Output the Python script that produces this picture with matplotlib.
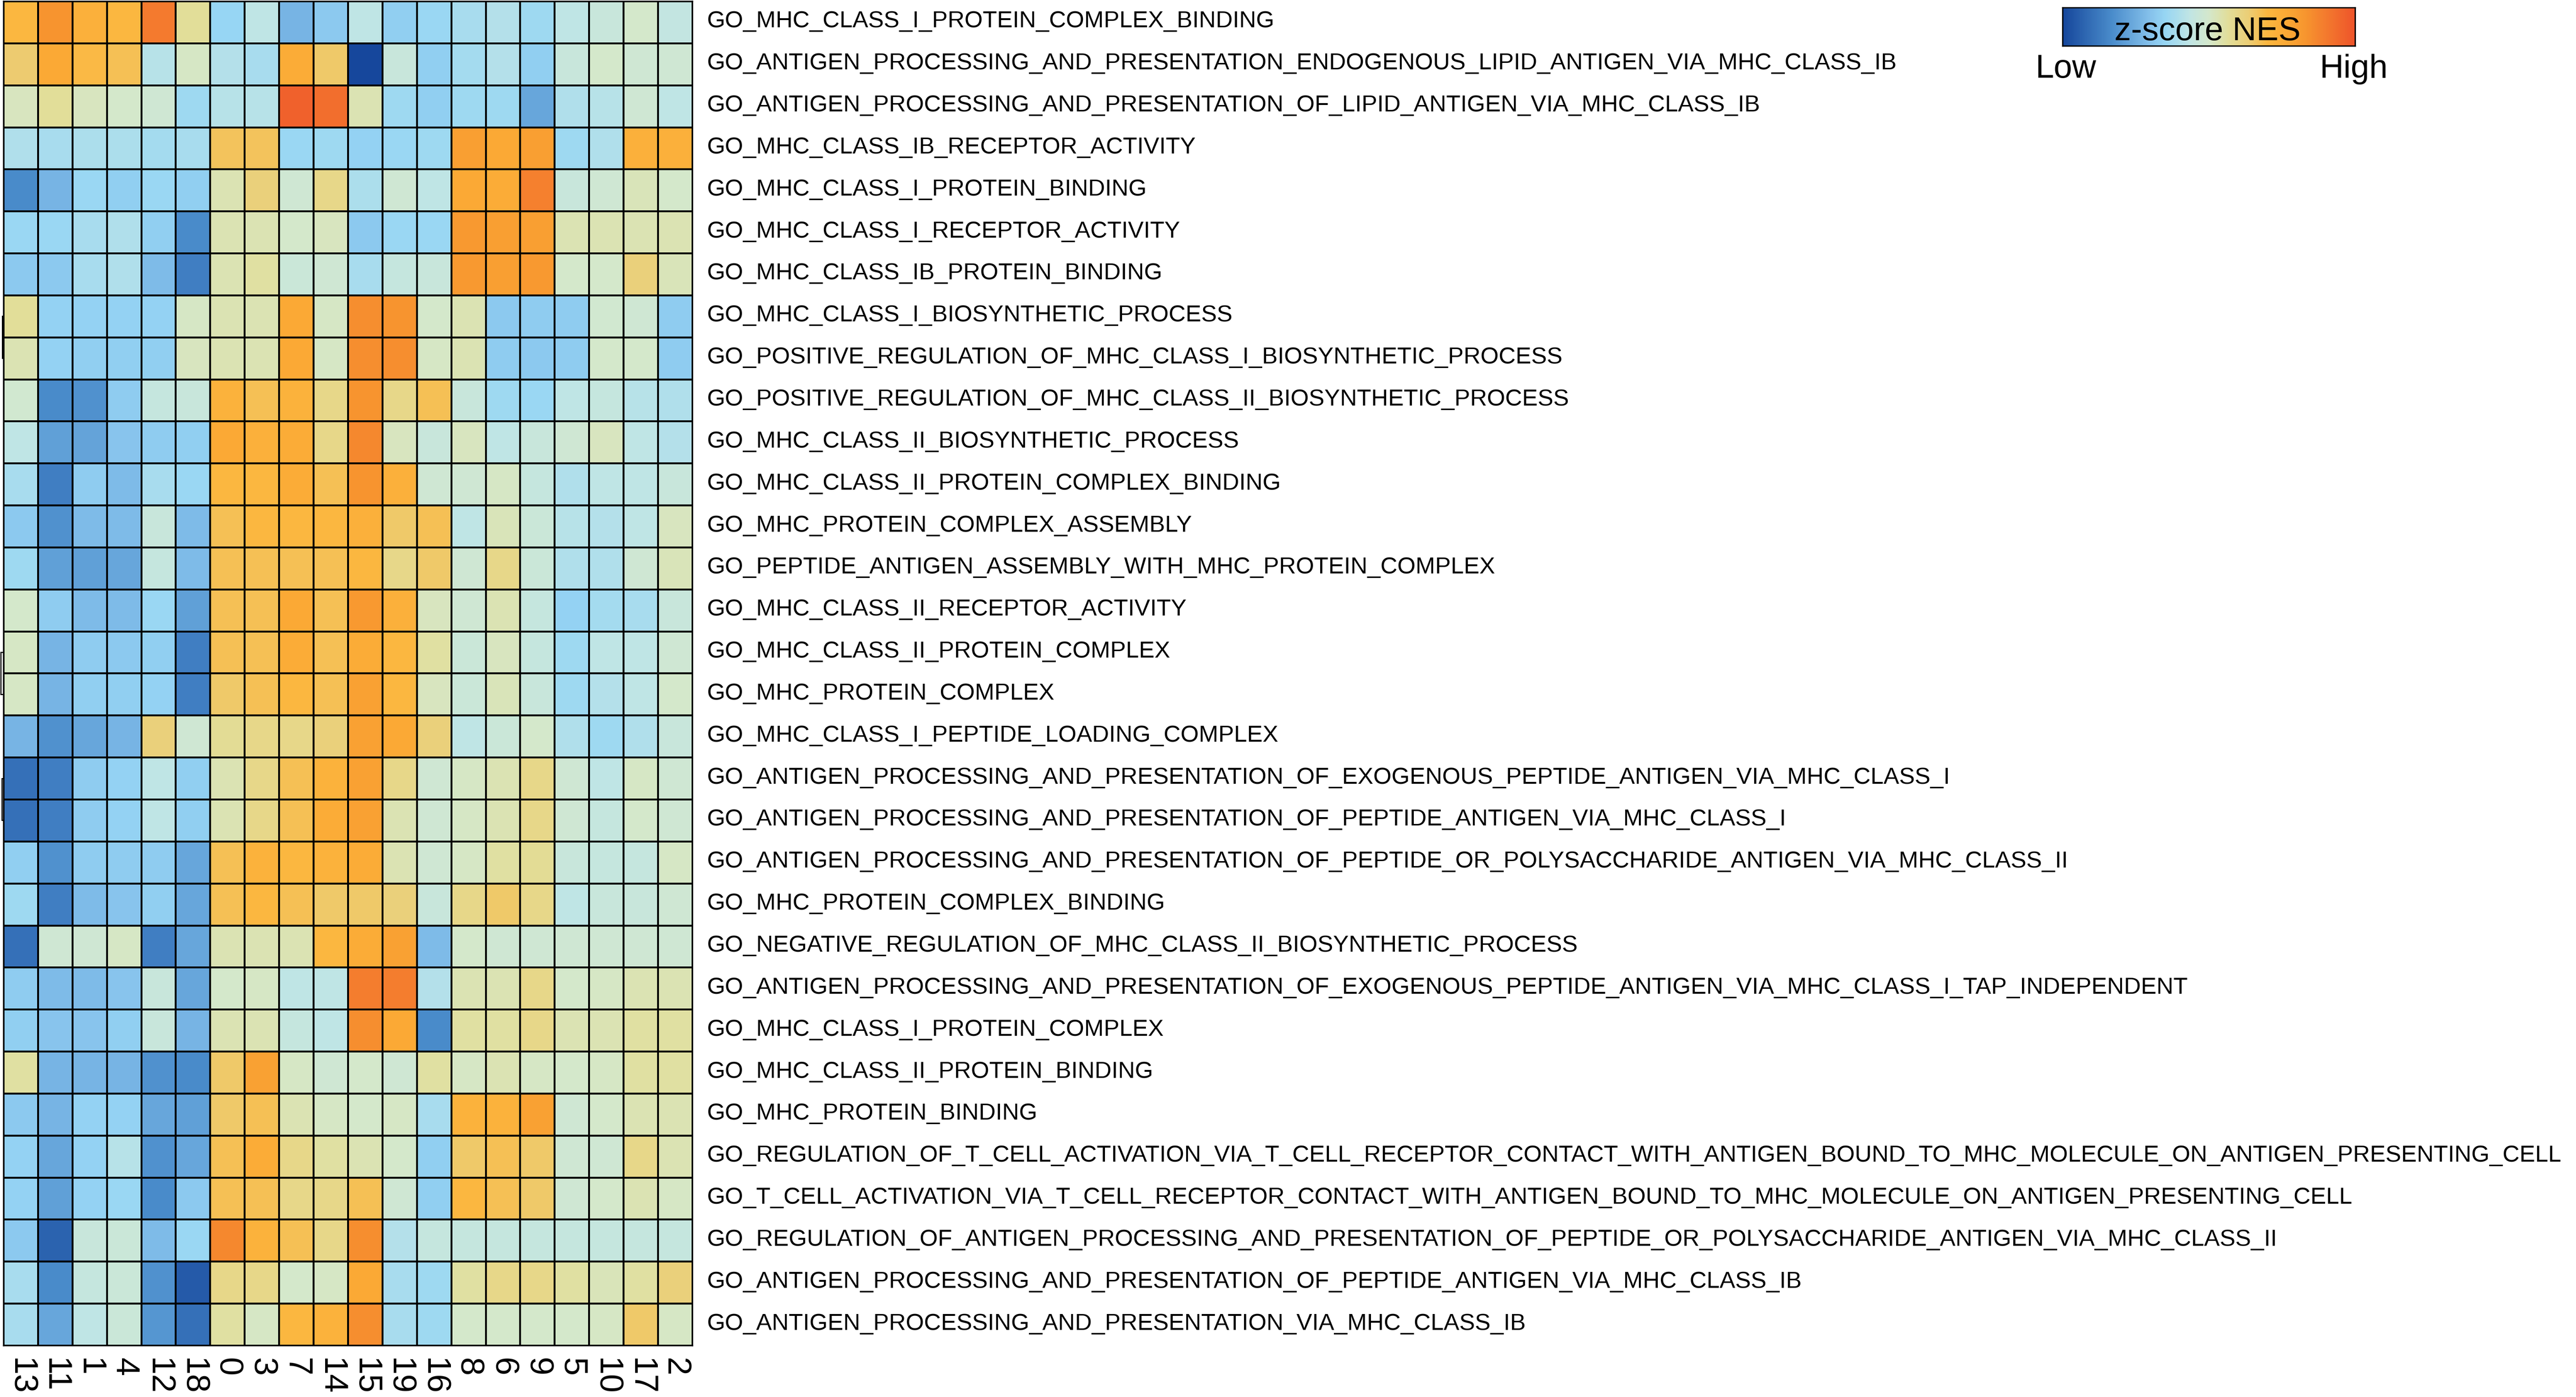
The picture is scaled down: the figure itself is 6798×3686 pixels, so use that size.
import numpy as np
import matplotlib
matplotlib.use("Agg")
import matplotlib.pyplot as plt
import matplotlib.transforms as mtransforms
from matplotlib.colors import LinearSegmentedColormap

plt.rcParams['font.family'] = ['Liberation Sans', 'DejaVu Sans']

clusters = ["13", "11", "1", "4", "12", "18", "0", "3", "7", "14",
            "15", "19", "16", "8", "6", "9", "5", "10", "17", "2"]

terms = [
    "GO_MHC_CLASS_I_PROTEIN_COMPLEX_BINDING",
    "GO_ANTIGEN_PROCESSING_AND_PRESENTATION_ENDOGENOUS_LIPID_ANTIGEN_VIA_MHC_CLASS_IB",
    "GO_ANTIGEN_PROCESSING_AND_PRESENTATION_OF_LIPID_ANTIGEN_VIA_MHC_CLASS_IB",
    "GO_MHC_CLASS_IB_RECEPTOR_ACTIVITY",
    "GO_MHC_CLASS_I_PROTEIN_BINDING",
    "GO_MHC_CLASS_I_RECEPTOR_ACTIVITY",
    "GO_MHC_CLASS_IB_PROTEIN_BINDING",
    "GO_MHC_CLASS_I_BIOSYNTHETIC_PROCESS",
    "GO_POSITIVE_REGULATION_OF_MHC_CLASS_I_BIOSYNTHETIC_PROCESS",
    "GO_POSITIVE_REGULATION_OF_MHC_CLASS_II_BIOSYNTHETIC_PROCESS",
    "GO_MHC_CLASS_II_BIOSYNTHETIC_PROCESS",
    "GO_MHC_CLASS_II_PROTEIN_COMPLEX_BINDING",
    "GO_MHC_PROTEIN_COMPLEX_ASSEMBLY",
    "GO_PEPTIDE_ANTIGEN_ASSEMBLY_WITH_MHC_PROTEIN_COMPLEX",
    "GO_MHC_CLASS_II_RECEPTOR_ACTIVITY",
    "GO_MHC_CLASS_II_PROTEIN_COMPLEX",
    "GO_MHC_PROTEIN_COMPLEX",
    "GO_MHC_CLASS_I_PEPTIDE_LOADING_COMPLEX",
    "GO_ANTIGEN_PROCESSING_AND_PRESENTATION_OF_EXOGENOUS_PEPTIDE_ANTIGEN_VIA_MHC_CLASS_I",
    "GO_ANTIGEN_PROCESSING_AND_PRESENTATION_OF_PEPTIDE_ANTIGEN_VIA_MHC_CLASS_I",
    "GO_ANTIGEN_PROCESSING_AND_PRESENTATION_OF_PEPTIDE_OR_POLYSACCHARIDE_ANTIGEN_VIA_MHC_CLASS_II",
    "GO_MHC_PROTEIN_COMPLEX_BINDING",
    "GO_NEGATIVE_REGULATION_OF_MHC_CLASS_II_BIOSYNTHETIC_PROCESS",
    "GO_ANTIGEN_PROCESSING_AND_PRESENTATION_OF_EXOGENOUS_PEPTIDE_ANTIGEN_VIA_MHC_CLASS_I_TAP_INDEPENDENT",
    "GO_MHC_CLASS_I_PROTEIN_COMPLEX",
    "GO_MHC_CLASS_II_PROTEIN_BINDING",
    "GO_MHC_PROTEIN_BINDING",
    "GO_REGULATION_OF_T_CELL_ACTIVATION_VIA_T_CELL_RECEPTOR_CONTACT_WITH_ANTIGEN_BOUND_TO_MHC_MOLECULE_ON_ANTIGEN_PRESENTING_CELL",
    "GO_T_CELL_ACTIVATION_VIA_T_CELL_RECEPTOR_CONTACT_WITH_ANTIGEN_BOUND_TO_MHC_MOLECULE_ON_ANTIGEN_PRESENTING_CELL",
    "GO_REGULATION_OF_ANTIGEN_PROCESSING_AND_PRESENTATION_OF_PEPTIDE_OR_POLYSACCHARIDE_ANTIGEN_VIA_MHC_CLASS_II",
    "GO_ANTIGEN_PROCESSING_AND_PRESENTATION_OF_PEPTIDE_ANTIGEN_VIA_MHC_CLASS_IB",
    "GO_ANTIGEN_PROCESSING_AND_PRESENTATION_VIA_MHC_CLASS_IB",
]

# z-scored NES, one row per GO term, columns in cluster order above
nes_z = [
    [1.2, 2.0, 1.4, 1.2, 2.4, 0.4, -0.9, -0.4, -1.4, -1.1, -0.4, -1.0, -0.85, -0.7, -0.55, -0.8, -0.4, -0.25, 0.0, -0.35],
    [0.85, 1.6, 1.15, 1.05, -0.5, 0.05, -0.55, -0.7, 1.5, 0.9, -3.0, -0.25, -1.0, -0.75, -0.55, -1.0, -0.25, 0.0, -0.1, -0.1],
    [0.1, 0.4, 0.1, 0.0, -0.1, -0.8, -0.5, -0.5, 2.8, 2.6, 0.2, -0.8, -1.0, -0.8, -0.8, -1.6, -0.6, -0.5, -0.1, -0.4],
    [-0.6, -0.7, -0.65, -0.65, -0.75, -0.7, 1.0, 1.0, -0.85, -0.8, -0.95, -0.85, -0.8, 1.8, 1.6, 1.8, -0.8, -0.6, 1.4, 1.4],
    [-2.0, -1.4, -0.85, -1.0, -0.85, -1.0, 0.2, 0.75, -0.1, 0.6, -0.65, -0.1, -0.4, 1.6, 1.5, 2.3, -0.25, -0.1, 0.15, 0.0],
    [-0.85, -0.85, -0.7, -0.6, -1.0, -2.0, 0.2, 0.2, 0.0, 0.1, -1.1, -0.85, -0.85, 1.9, 1.8, 1.8, 0.2, 0.2, 0.2, 0.2],
    [-1.1, -1.1, -0.7, -0.6, -1.3, -2.2, 0.2, 0.35, -0.2, -0.1, -0.7, -0.3, -0.25, 1.9, 1.8, 1.9, 0.0, 0.0, 0.75, 0.15],
    [0.4, -0.95, -0.95, -0.95, -0.95, 0.05, 0.2, 0.2, 1.6, 0.05, 2.1, 2.0, 0.0, 0.2, -1.1, -1.05, -1.05, -0.05, -0.1, -1.05],
    [0.2, -0.95, -1.0, -1.0, -1.0, 0.1, 0.2, 0.2, 1.6, 0.05, 2.1, 2.1, 0.05, 0.2, -1.05, -1.1, -1.05, 0.0, 0.0, -1.05],
    [-0.05, -2.0, -1.9, -1.05, -0.3, -0.25, 1.35, 1.05, 1.35, 0.6, 2.0, 0.6, 1.05, -0.25, -0.8, -0.85, -0.4, -0.3, -0.5, -0.6],
    [-0.4, -1.7, -1.65, -1.15, -1.05, -1.0, 1.6, 1.4, 1.5, 0.6, 2.2, 0.1, -0.25, 0.1, -0.4, -0.25, -0.1, 0.1, -0.4, -0.55],
    [-0.7, -2.2, -1.05, -1.3, -0.7, -0.85, 1.2, 1.2, 1.5, 1.05, 2.0, 1.4, -0.1, -0.1, 0.05, -0.3, -0.6, -0.4, -0.4, -0.25],
    [-1.1, -1.9, -1.3, -1.3, -0.25, -1.3, 1.05, 1.2, 1.2, 1.2, 1.4, 0.9, 1.05, -0.4, 0.15, -0.2, -0.5, -0.55, -0.4, 0.1],
    [-0.8, -1.7, -1.7, -1.6, -0.3, -1.3, 1.05, 1.05, 1.05, 1.05, 1.2, 0.6, 0.9, -0.1, 0.6, -0.2, -0.6, -0.6, -0.1, 0.15],
    [0.0, -1.05, -1.3, -1.3, -0.85, -1.7, 1.05, 1.05, 1.6, 1.05, 1.9, 1.4, 0.1, -0.1, 0.2, -0.3, -0.95, -0.75, -0.7, -0.25],
    [0.05, -1.4, -1.05, -1.1, -1.0, -2.2, 1.05, 1.05, 1.5, 1.05, 1.5, 1.2, 0.35, -0.2, 0.1, -0.3, -0.8, -0.4, -0.4, -0.1],
    [0.05, -1.4, -1.0, -1.0, -0.95, -2.2, 0.9, 1.05, 1.2, 1.05, 1.75, 1.2, 0.1, -0.2, 0.15, -0.25, -0.8, -0.55, -0.4, 0.0],
    [-1.4, -1.9, -1.6, -1.4, 0.75, -0.1, 0.45, 0.6, 0.6, 0.75, 1.75, 1.6, 0.75, -0.4, -0.2, 0.0, -0.6, -0.8, -0.6, -0.25],
    [-2.4, -2.2, -1.05, -0.95, -0.4, -1.0, 0.2, 0.6, 1.05, 1.35, 1.75, 0.6, -0.1, 0.05, 0.2, 0.6, -0.1, -0.4, 0.05, -0.1],
    [-2.4, -2.2, -1.05, -0.95, -0.4, -1.0, 0.2, 0.6, 1.05, 1.5, 1.75, 0.2, -0.1, 0.05, 0.2, 0.6, -0.1, -0.3, 0.0, -0.1],
    [-1.0, -1.9, -1.05, -1.05, -1.05, -1.6, 1.05, 1.35, 1.2, 1.35, 1.5, 0.2, -0.1, 0.05, 0.35, 0.45, -0.25, -0.3, -0.3, 0.05],
    [-0.8, -2.2, -1.3, -1.15, -1.0, -1.6, 1.05, 1.2, 1.05, 0.9, 0.9, 0.75, -0.25, 0.6, 0.9, 0.6, -0.4, -0.25, -0.25, -0.1],
    [-2.4, -0.1, -0.1, 0.05, -2.2, -1.6, 0.2, 0.2, 0.2, 1.2, 1.5, 1.75, -1.3, 0.0, -0.1, -0.1, -0.1, -0.1, -0.1, -0.1],
    [-1.05, -1.3, -1.3, -1.15, -0.25, -1.6, 0.0, 0.05, -0.4, -0.4, 2.35, 2.35, -0.55, 0.2, 0.2, 0.6, 0.0, 0.05, 0.2, 0.2],
    [-1.0, -1.15, -1.15, -1.0, -0.25, -1.4, 0.2, 0.2, -0.3, -0.4, 2.1, 1.6, -2.0, 0.35, 0.35, 0.6, 0.2, 0.2, 0.35, 0.35],
    [0.35, -1.4, -1.4, -1.4, -1.9, -2.0, 0.9, 1.75, 0.05, -0.1, 0.0, -0.1, 0.35, 0.05, 0.2, 0.05, 0.0, 0.05, 0.35, 0.35],
    [-1.1, -1.4, -0.95, -0.95, -1.6, -1.7, 0.9, 1.05, 0.2, 0.05, 0.0, 0.05, -0.7, 1.35, 1.35, 1.75, -0.1, 0.0, 0.2, 0.2],
    [-0.95, -1.6, -0.95, -0.5, -1.9, -1.6, 1.05, 1.5, 0.6, 0.35, 0.2, 0.0, -1.0, 0.9, 1.05, 0.9, -0.1, -0.1, 0.6, 0.2],
    [-0.95, -1.7, -0.95, -0.85, -2.0, -1.1, 1.05, 1.05, 0.6, 0.6, 1.05, -0.1, -1.0, 1.2, 1.05, 0.9, -0.1, 0.0, 0.2, 0.05],
    [-1.1, -2.6, -0.25, -0.2, -1.3, -0.85, 2.2, 1.35, 1.05, 0.6, 2.1, -0.55, -0.3, -0.3, -0.3, -0.3, -0.3, -0.3, -0.3, -0.3],
    [-0.7, -2.0, -0.3, -0.2, -1.9, -2.7, 0.6, 0.6, 0.0, 0.05, 1.6, -0.7, -0.8, 0.35, 0.6, 0.6, 0.35, 0.15, 0.35, 0.75],
    [-0.7, -1.6, -0.4, -0.2, -1.85, -2.4, 0.35, 0.05, 1.2, 1.35, 2.1, -0.7, -0.8, 0.0, 0.0, 0.0, 0.0, 0.05, 0.9, 0.05],
]

# tips of the (cropped) row dendrogram: pairs of merged rows
row_merges = [(7, 8), (15, 16), (18, 19)]

# colour ramp (low blue -> pale -> orange/red)
ramp = [
    (0.000, "#16479C"),
    (0.167, "#4A8CCB"),
    (0.300, "#86C2EC"),
    (0.350, "#97D6F4"),
    (0.433, "#C0E5E5"),
    (0.500, "#D4E8CC"),
    (0.567, "#E2DE9A"),
    (0.633, "#EBCF78"),
    (0.700, "#FBB740"),
    (0.767, "#FBA935"),
    (0.833, "#F7952F"),
    (0.900, "#F47B2E"),
    (1.000, "#EE552B"),
]
cmap = LinearSegmentedColormap.from_list("nes", ramp)

data = np.array(nes_z)
nrow, ncol = data.shape

W, H = 6799, 3686
fig = plt.figure(figsize=(W / 100, H / 100), dpi=100)

ax = fig.add_axes([9 / W, 1 - 3550 / H, (1827 - 9) / W, (3550 - 3) / H])
ax.pcolormesh(data, cmap=cmap, vmin=-3, vmax=3, edgecolors="black", linewidth=2.2)
ax.set_xlim(0, ncol)
ax.set_ylim(nrow, 0)
for s in ax.spines.values():
    s.set_linewidth(2.5)

ax.set_yticks(np.arange(nrow) + 0.5)
ax.set_yticklabels(terms, fontsize=44.5)
ax.yaxis.tick_right()
ax.tick_params(axis="y", length=0, pad=28)
shift = mtransforms.ScaledTranslation(0, 0.08, fig.dpi_scale_trans)
for lab in ax.get_yticklabels():
    lab.set_transform(lab.get_transform() + shift)

ax.set_xticks(np.arange(ncol) + 0.5)
ax.set_xticklabels(clusters, fontsize=63, rotation=270, va="top", ha="center")
ax.tick_params(axis="x", length=0, pad=24)

# little dendrogram brackets poking in at the left edge
for (r1, r2), xo in zip(row_merges, [-0.035, -0.08, -0.045]):
    ax.plot([0, xo, xo, 0], [r1 + 0.5, r1 + 0.5, r2 + 0.5, r2 + 0.5],
            color="black", lw=2.2, clip_on=False, solid_joinstyle="miter")

# legend bar
cax = fig.add_axes([5443 / W, 1 - 121 / H, (6215 - 5443) / W, 101 / H])
grad = np.linspace(0, 1, 256).reshape(1, -1)
cax.imshow(grad, aspect="auto", cmap=cmap, extent=[0, 1, 0, 1])
cax.set_xticks([])
cax.set_yticks([])
for s in cax.spines.values():
    s.set_linewidth(2.5)
fig.text(5826 / W, 1 - 106 / H, "z-score NES", ha="center", va="baseline", fontsize=63)
fig.text(5372 / W, 1 - 205 / H, "Low", ha="left", va="baseline", fontsize=63)
fig.text(6122 / W, 1 - 205 / H, "High", ha="left", va="baseline", fontsize=63)

fig.savefig("out.png", dpi=100, facecolor="white")
